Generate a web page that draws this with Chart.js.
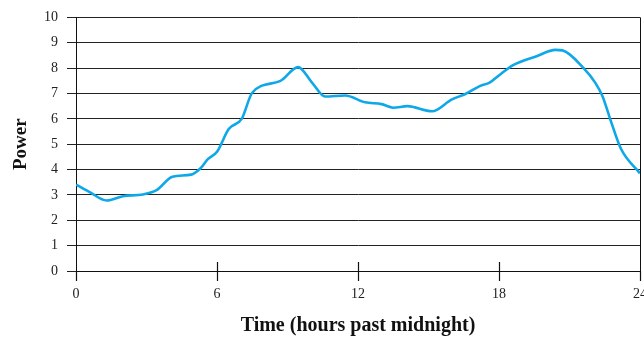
<!DOCTYPE html>
<html>
<head>
<meta charset="utf-8">
<script src="https://cdn.jsdelivr.net/npm/chart.js@4.4.1/dist/chart.umd.min.js"></script>
<style>
  html, body { margin: 0; padding: 0; background: #fff; }
  #wrap { width: 644px; height: 337px; }
</style>
</head>
<body>
<div id="wrap"><canvas id="powerChart"></canvas></div>
<script>
// hours past midnight and power
var hours = [0, 0.6, 1.3, 2, 2.85, 3.45, 4.1, 4.9, 5.3, 5.6, 6.0, 6.5, 7.05, 7.5, 8.7, 9.45, 10.05, 10.6, 11.45, 12.3, 13.0, 13.5, 14.1, 15.15, 16.0, 16.55, 17.2, 17.6, 18.05, 18.6, 19.6, 20.4, 20.7, 21.6, 22.1, 22.4, 22.8, 23.2, 24];
var power = [3.41, 3.1, 2.78, 2.95, 3.02, 3.2, 3.72, 3.8, 4.05, 4.4, 4.7, 5.6, 6.0, 7.03, 7.5, 8.04, 7.42, 6.88, 6.92, 6.65, 6.58, 6.44, 6.5, 6.3, 6.77, 6.97, 7.3, 7.43, 7.75, 8.12, 8.47, 8.72, 8.7, 8.0, 7.42, 6.9, 5.8, 4.8, 3.85];
var xTicks = [0, 6, 12, 18, 24];

var serif = "'Liberation Serif', 'Times New Roman', serif";
var points = hours.map(function(h, i) { return { x: h, y: power[i] }; });

// x tick marks: cross the axis at 6/12/18, hang below at 0 and 24
var xTickMarks = {
  id: "xTickMarks",
  afterDraw: function(chart) {
    var c = chart.ctx, xs = chart.scales.x, bottom = chart.chartArea.bottom;
    c.save();
    c.strokeStyle = "#111";
    c.lineWidth = 1.2;
    xTicks.forEach(function(v) {
      var px = Math.round(xs.getPixelForValue(v)) + 0.5;
      var top = (v === 0 || v === 24) ? bottom : bottom - 9;
      c.beginPath();
      c.moveTo(px, top);
      c.lineTo(px, bottom + 10);
      c.stroke();
    });
    c.restore();
  }
};

new Chart(document.getElementById("powerChart"), {
  type: "line",
  data: {
    datasets: [{
      data: points,
      borderColor: "#0ea8e8",
      borderWidth: 2.6,
      pointRadius: 0,
      tension: 0.4,
      cubicInterpolationMode: "monotone",
      fill: false
    }]
  },
  options: {
    responsive: true,
    maintainAspectRatio: false,
    animation: false,
    layout: { padding: { top: 16, right: 4, left: 0, bottom: 0 } },
    plugins: { legend: { display: false }, tooltip: { enabled: false } },
    scales: {
      x: {
        type: "linear",
        min: 0, max: 24,
        afterFit: function(s) { s.height = 66; s.paddingRight = 4; s.paddingLeft = 0; },
        afterBuildTicks: function(s) { s.ticks = xTicks.map(function(v) { return { value: v }; }); },
        ticks: { color: "#222", font: { family: serif, size: 14 }, padding: 15, maxRotation: 0 },
        grid: {
          color: function(ctx) { return (ctx.tick && (ctx.tick.value === 0 || ctx.tick.value === 24)) ? "#111" : "transparent"; },
          drawTicks: false
        },
        border: { display: true, color: "#111" },
        title: { display: true, text: "Time (hours past midnight)", color: "#111", font: { family: serif, size: 20, weight: "bold" }, padding: { top: 0, bottom: -1 } }
      },
      y: {
        min: 0, max: 10,
        afterFit: function(s) { s.width = 76; },
        ticks: { stepSize: 1, color: "#222", font: { family: serif, size: 14 }, padding: 9 },
        grid: { color: "#222", tickColor: "#222", tickLength: 9 },
        border: { display: true, color: "#111" },
        title: { display: true, text: "Power", color: "#111", font: { family: serif, size: 19, weight: "bold" }, padding: { top: 10, bottom: 0 } }
      }
    }
  },
  plugins: [xTickMarks]
});
</script>
</body>
</html>
